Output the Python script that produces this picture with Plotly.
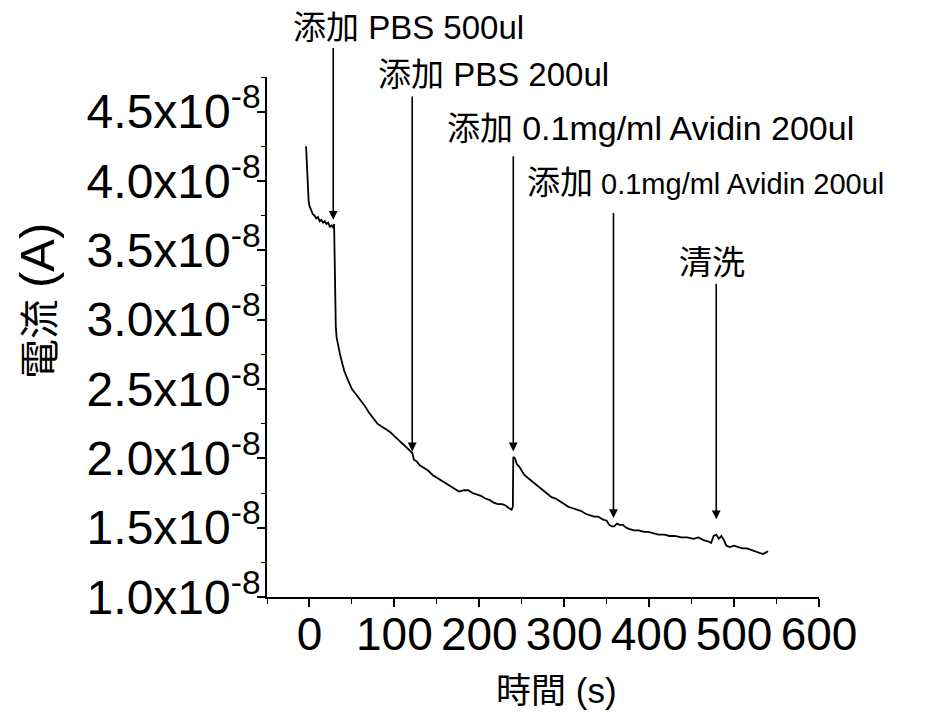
import plotly.graph_objects as go

# ---- data (time in s, current in units of 1e-8 A) ----
time_s = [-4, -3, -2, -1, 0, 2, 4, 6, 8, 10, 12, 14, 16, 18, 20, 22, 24, 26, 28, 29,
          30, 31, 32, 34, 36, 38, 41, 45, 50, 55, 60, 65, 70, 75, 80, 85, 90, 95, 100,
          105, 110, 115, 119, 121, 123, 126, 130, 135, 140, 145, 150, 155, 160, 165,
          170, 176, 182, 187, 192, 197, 202, 207, 212, 217, 222, 227, 231, 235, 238,
          239.5, 240, 242, 244, 247, 250, 253, 257, 261, 265, 269, 274, 280, 285, 290,
          295, 300, 305, 310, 315, 320, 325, 330, 335, 340, 345, 350, 353, 356, 359,
          362, 365, 369, 373, 377, 382, 388, 394, 399, 405, 411, 418, 424, 430, 438,
          445, 452, 458, 464, 470, 473, 476, 479, 482, 485, 488, 491, 495, 500, 505,
          510, 515, 520, 525, 530, 534, 537, 540]
current_e8 = [4.25, 4.10, 3.95, 3.86, 3.82, 3.79, 3.76, 3.75, 3.73, 3.74, 3.71, 3.72, 3.70,
              3.71, 3.69, 3.70, 3.67, 3.68, 3.66, 3.69, 3.30, 2.95, 2.87, 2.80, 2.75, 2.70,
              2.63, 2.57, 2.50, 2.46, 2.42, 2.38, 2.33, 2.29, 2.25, 2.23, 2.21, 2.19, 2.16,
              2.13, 2.10, 2.07, 2.05, 2.04, 1.99, 1.98, 1.95, 1.93, 1.91, 1.88, 1.86, 1.84,
              1.82, 1.80, 1.78, 1.76, 1.77, 1.77, 1.75, 1.74, 1.73, 1.71, 1.70, 1.68, 1.67,
              1.67, 1.66, 1.64, 1.63, 1.65, 2.01, 2.00, 1.96, 1.94, 1.91, 1.88, 1.86, 1.84,
              1.82, 1.80, 1.78, 1.75, 1.72, 1.71, 1.69, 1.67, 1.65, 1.64, 1.63, 1.62, 1.60,
              1.59, 1.58, 1.58, 1.56, 1.55, 1.52, 1.51, 1.51, 1.53, 1.52, 1.52, 1.50, 1.49,
              1.48, 1.48, 1.47, 1.47, 1.46, 1.45, 1.45, 1.44, 1.44, 1.43, 1.43, 1.42, 1.43,
              1.41, 1.40, 1.39, 1.44, 1.45, 1.42, 1.44, 1.41, 1.37, 1.36, 1.37, 1.36, 1.35,
              1.35, 1.34, 1.33, 1.32, 1.31, 1.32, 1.33]

y_tick_vals_e8 = [1.0, 1.5, 2.0, 2.5, 3.0, 3.5, 4.0, 4.5]
y_tick_labels = ["1.0x10<sup>-8</sup>", "1.5x10<sup>-8</sup>", "2.0x10<sup>-8</sup>",
                 "2.5x10<sup>-8</sup>", "3.0x10<sup>-8</sup>", "3.5x10<sup>-8</sup>",
                 "4.0x10<sup>-8</sup>", "4.5x10<sup>-8</sup>"]
x_tick_vals = [0, 100, 200, 300, 400, 500, 600]

# events: arrow position, tip value, tail value (1e-8 A)
event_times = [28, 121, 240, 358, 479]
event_tip_e8 = [3.72, 2.05, 2.05, 1.57, 1.56]
event_tail_e8 = [4.97, 4.62, 4.19, 3.78, 3.27]

# labels: text, left x (s), y value (1e-8 A), anchor
label_texts = ["添加 PBS 500ul",
               "添加 PBS 200ul",
               "添加 <span style='font-size:34px'>0.1mg/ml Avidin 200ul</span>",
               "添加<span style='font-size:29px'> 0.1mg/ml Avidin 200ul</span>",
               "清洗"]
label_x = [-22, 78, 160, 254, 474]
label_y_e8 = [5.11, 4.77, 4.38, 3.99, 3.41]
label_anchor = ["left", "left", "left", "left", "center"]

E = 1e-8
Y_MIN, Y_MAX = 1.0, 4.75
FONT = "Arial, 'Liberation Sans', 'Noto Sans CJK TC', sans-serif"

fig = go.Figure()
fig.add_trace(go.Scatter(
    x=time_s, y=[v * E for v in current_e8], mode="lines",
    line=dict(color="black", width=1.8), showlegend=False, hoverinfo="skip"))

for t, tip, tail in zip(event_times, event_tip_e8, event_tail_e8):
    fig.add_annotation(x=t, y=tip * E, ax=t, ay=tail * E, xref="x", yref="y",
                       axref="x", ayref="y", text="", showarrow=True,
                       arrowhead=2, arrowsize=1.1, arrowwidth=1.6, arrowcolor="black")

for txt, lx, ly, anc in zip(label_texts, label_x, label_y_e8, label_anchor):
    fig.add_annotation(x=lx, y=(ly - Y_MIN) / (Y_MAX - Y_MIN), xref="x", yref="paper",
                       text=txt, showarrow=False, xanchor=anc, yanchor="middle",
                       font=dict(family=FONT, size=33, color="black"))

# axis titles
fig.add_annotation(x=-0.4167, y=0.569, xref="paper", yref="paper",
                   text="電流 <span style='font-size:49px'>(A)</span>", textangle=-90,
                   showarrow=False, xanchor="center", yanchor="middle",
                   font=dict(family=FONT, size=40, color="black"))
fig.add_annotation(x=0.525, y=-0.179, xref="paper", yref="paper",
                   text="時間 (s)", showarrow=False, xanchor="center", yanchor="middle",
                   font=dict(family=FONT, size=35, color="black"))

fig.update_layout(
    width=932, height=722,
    margin=dict(l=267, r=113, t=77, b=125, autoexpand=False),
    paper_bgcolor="white", plot_bgcolor="white",
    font=dict(family=FONT, color="black"),
)
fig.update_xaxes(
    range=[-50, 600], showgrid=False, zeroline=False, showline=True,
    linecolor="black", linewidth=1.6, ticks="outside", ticklen=8, tickwidth=1.6,
    tickcolor="black", tickmode="array", tickvals=x_tick_vals,
    tickfont=dict(family=FONT, size=46, color="black"), ticklabelstandoff=-12,
    minor=dict(tickmode="linear", tick0=-50, dtick=50, ticks="outside", ticklen=5,
               tickwidth=1.4, tickcolor="black"),
    automargin=False,
)
fig.update_yaxes(
    range=[Y_MIN * E, Y_MAX * E], showgrid=False, zeroline=False, showline=True,
    linecolor="black", linewidth=1.6, ticks="outside", ticklen=8, tickwidth=1.6,
    tickcolor="black", tickmode="array", tickvals=[v * E for v in y_tick_vals_e8],
    ticktext=y_tick_labels,
    tickfont=dict(family=FONT, size=48, color="black"), ticklabelstandoff=-13,
    minor=dict(tickmode="linear", tick0=Y_MIN * E, dtick=0.25 * E, ticks="outside",
               ticklen=4, tickwidth=1.4, tickcolor="black"),
    automargin=False,
)

fig.write_html("out.html")
